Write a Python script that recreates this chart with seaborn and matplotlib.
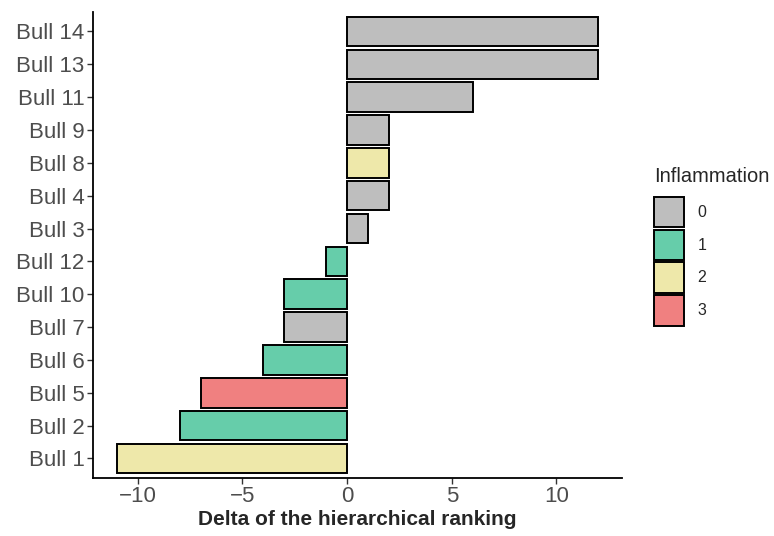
import pandas as pd
import matplotlib.pyplot as plt
import seaborn as sns
from matplotlib.patches import Patch

bulls = ['Bull 14', 'Bull 13', 'Bull 11', 'Bull 9', 'Bull 8', 'Bull 4', 'Bull 3',
         'Bull 12', 'Bull 10', 'Bull 7', 'Bull 6', 'Bull 5', 'Bull 2', 'Bull 1']
delta = [12, 12, 6, 2, 2, 2, 1, -1, -3, -3, -4, -7, -8, -11]
inflammation = ['0', '0', '0', '0', '2', '0', '0', '1', '1', '0', '1', '3', '1', '2']

levels = ['0', '1', '2', '3']
colors = {'0': '#BEBEBE', '1': '#66CDAA', '2': '#EEE8AA', '3': '#F08080'}

df = pd.DataFrame({'bull': bulls, 'delta': delta, 'inflammation': inflammation})

sns.set_style('white')
plt.rcParams['font.family'] = ['Liberation Sans', 'DejaVu Sans']

fig = plt.figure(figsize=(7.74, 5.36), dpi=100)
ax = fig.add_axes([0.120, 0.108, 0.684, 0.870])

sns.barplot(data=df, x='delta', y='bull', hue='inflammation', hue_order=levels,
            palette=colors, order=bulls, dodge=False, width=0.9, saturation=1,
            edgecolor='black', linewidth=1.4, legend=False, ax=ax)

ax.set_xlim(-12.15, 13.15)
ax.set_ylim(len(bulls) - 0.4, -0.6)
ax.set_xticks([-10, -5, 0, 5, 10])
ax.set_xticklabels(['\u221210', '\u22125', '0', '5', '10'])
ax.set_xlabel('Delta of the hierarchical ranking', fontsize=15, fontweight='bold', labelpad=2)
ax.set_ylabel('')
ax.tick_params(axis='both', labelsize=16, labelcolor='#4D4D4D', color='#333333',
               length=4, width=1, direction='out', bottom=True, left=True, pad=2)
for s in ['top', 'right']:
    ax.spines[s].set_visible(False)
for s in ['left', 'bottom']:
    ax.spines[s].set_color('black')
    ax.spines[s].set_linewidth(1.3)

handles = [Patch(facecolor=colors[l], edgecolor='black', linewidth=1.4, label=l) for l in levels]
leg = fig.legend(handles=handles, title='Inflammation', loc='upper left',
                 bbox_to_anchor=(0.845, 0.689), frameon=False, fontsize=11.5,
                 title_fontsize=14.5, handlelength=1.88, handleheight=2.55,
                 labelspacing=0.15, handletextpad=0.85, borderpad=0, borderaxespad=0)
leg._legend_box.align = 'left'
leg._legend_box.sep = 8

fig.savefig('out.png', dpi=100)
